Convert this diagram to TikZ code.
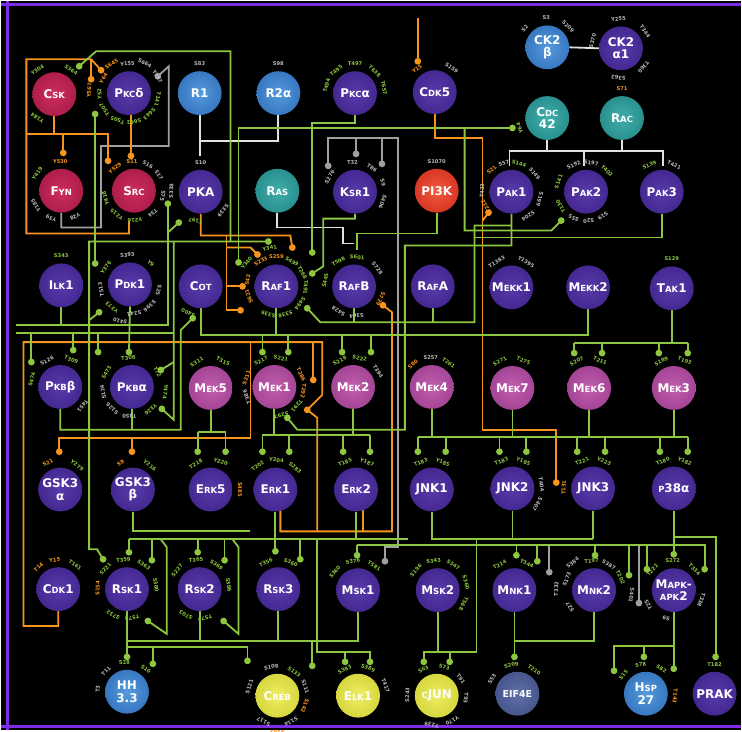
\documentclass[tikz,border=0pt]{standalone}
\usepackage{fontspec}
\setmainfont{DejaVu Sans}
\usetikzlibrary{calc}
\pgfdeclarelayer{back}\pgfdeclarelayer{bg}
\pgfsetlayers{back,bg,main}
\definecolor{gcol}{RGB}{141,198,63}
\definecolor{ocol}{RGB}{247,148,29}
\definecolor{kcol}{RGB}{160,160,160}
\definecolor{wcol}{RGB}{225,225,225}
\definecolor{slg}{RGB}{140,198,63}
\definecolor{slo}{RGB}{247,148,29}
\definecolor{slw}{RGB}{185,185,185}
\definecolor{framecol}{RGB}{125,45,230}
\definecolor{purA}{RGB}{88,58,170}\definecolor{purB}{RGB}{66,38,142}\definecolor{purC}{RGB}{42,20,100}\definecolor{purD}{RGB}{24,10,62}
\definecolor{magA}{RGB}{195,95,175}\definecolor{magB}{RGB}{160,65,145}\definecolor{magC}{RGB}{105,32,95}\definecolor{magD}{RGB}{65,15,60}
\definecolor{redA}{RGB}{205,45,95}\definecolor{redB}{RGB}{170,28,72}\definecolor{redC}{RGB}{112,14,44}\definecolor{redD}{RGB}{68,8,28}
\definecolor{bluA}{RGB}{85,155,220}\definecolor{bluB}{RGB}{52,115,190}\definecolor{bluC}{RGB}{25,68,138}\definecolor{bluD}{RGB}{12,38,88}
\definecolor{teaA}{RGB}{65,175,170}\definecolor{teaB}{RGB}{38,140,140}\definecolor{teaC}{RGB}{20,92,96}\definecolor{teaD}{RGB}{10,58,62}
\definecolor{pikA}{RGB}{240,90,60}\definecolor{pikB}{RGB}{212,50,35}\definecolor{pikC}{RGB}{148,20,15}\definecolor{pikD}{RGB}{88,10,8}
\definecolor{yelA}{RGB}{238,238,100}\definecolor{yelB}{RGB}{212,212,58}\definecolor{yelC}{RGB}{148,148,20}\definecolor{yelD}{RGB}{88,88,10}
\definecolor{slaA}{RGB}{98,112,168}\definecolor{slaB}{RGB}{68,82,138}\definecolor{slaC}{RGB}{40,50,94}\definecolor{slaD}{RGB}{22,28,60}
\pgfdeclareradialshading{orbpur}{\pgfpointorigin}{color(0bp)=(purA); color(28bp)=(purB); color(44bp)=(purC); color(50bp)=(purD)}
\pgfdeclareradialshading{orbmag}{\pgfpointorigin}{color(0bp)=(magA); color(28bp)=(magB); color(44bp)=(magC); color(50bp)=(magD)}
\pgfdeclareradialshading{orbred}{\pgfpointorigin}{color(0bp)=(redA); color(28bp)=(redB); color(44bp)=(redC); color(50bp)=(redD)}
\pgfdeclareradialshading{orbblu}{\pgfpointorigin}{color(0bp)=(bluA); color(28bp)=(bluB); color(44bp)=(bluC); color(50bp)=(bluD)}
\pgfdeclareradialshading{orbtea}{\pgfpointorigin}{color(0bp)=(teaA); color(28bp)=(teaB); color(44bp)=(teaC); color(50bp)=(teaD)}
\pgfdeclareradialshading{orbpik}{\pgfpointorigin}{color(0bp)=(pikA); color(28bp)=(pikB); color(44bp)=(pikC); color(50bp)=(pikD)}
\pgfdeclareradialshading{orbyel}{\pgfpointorigin}{color(0bp)=(yelA); color(28bp)=(yelB); color(44bp)=(yelC); color(50bp)=(yelD)}
\pgfdeclareradialshading{orbsla}{\pgfpointorigin}{color(0bp)=(slaA); color(28bp)=(slaB); color(44bp)=(slaC); color(50bp)=(slaD)}
\newcommand{\nodefnt}{\fontsize{12}{12.5}\selectfont\bfseries}
\newcommand{\kn}[2]{#1{\fontsize{8.5}{8.5}\selectfont #2}}
\newcommand{\sitel}[4]{\node[sitelab,text=#4,rotate=#2-90] at ($(#1)+(#2:29.5pt)$) {#3};}
\newcommand{\siter}[5]{\node[sitelab,text=#4,rotate=#2-90] at ($(#1)+(#2:#5pt)$) {#3};}
\tikzset{
  orb/.style={circle, minimum size=44pt, inner sep=0pt, text=white, font=\nodefnt, align=center, shade, shading=#1},
  pur/.style={orb=orbpur}, mag/.style={orb=orbmag}, red/.style={orb=orbred}, blu/.style={orb=orbblu},
  tea/.style={orb=orbtea}, pik/.style={orb=orbpik}, yel/.style={orb=orbyel}, sla/.style={orb=orbsla},
  sitelab/.style={font=\fontsize{5.2}{5.2}\selectfont\bfseries, inner sep=0pt},
  gl/.style={draw=gcol, line width=1.8pt},
  ol/.style={draw=ocol, line width=1.8pt},
  kl/.style={draw=kcol, line width=1.8pt},
  wl/.style={draw=wcol, line width=1.8pt}
}
\begin{document}
\begin{tikzpicture}[x=1pt,y=-1pt]
\begin{pgfonlayer}{back}
\fill[black] (0,0) rectangle (742,731);
\draw[framecol, line width=3pt] (0,3) -- (742,3);
\draw[framecol, line width=3pt] (6,0) -- (6,731);
\draw[framecol, line width=3pt] (0,728) -- (742,728);
\end{pgfonlayer}
\useasboundingbox (0,0) rectangle (742,731);
% ---------- nodes
\node[red] (csk) at (53,93) {\kn{C}{SK}};
\node[pur] (pkcd) at (128,92) {\kn{P}{KC}δ};
\node[blu] (r1) at (199,92) {R1};
\node[blu] (r2a) at (278,92) {R2α};
\node[pur] (pkca) at (355,92) {\kn{P}{KC}α};
\node[pur] (cdk5) at (435,91) {\kn{C}{DK}5};
\node[blu] (ck2b) at (548,46) {CK2\\β};
\node[pur] (ck2a) at (622,47) {CK2\\α1};
\node[tea] (cdc42) at (548,117) {\kn{C}{DC}\\42};
\node[tea] (rac) at (623,117) {\kn{R}{AC}};
\node[red] (fyn) at (60,190) {\kn{F}{YN}};
\node[red] (src) at (133,190) {\kn{S}{RC}};
\node[pur] (pka) at (200,191) {PKA};
\node[tea] (ras) at (277,190) {\kn{R}{AS}};
\node[pur] (ksr1) at (355,191) {\kn{K}{SR}1};
\node[pik] (pi3k) at (437,190) {PI3K};
\node[pur] (pak1) at (512,191) {\kn{P}{AK}1};
\node[pur] (pak2) at (587,191) {\kn{P}{AK}2};
\node[pur] (pak3) at (663,191) {\kn{P}{AK}3};
\node[pur] (ilk1) at (60,285) {\kn{I}{LK}1};
\node[pur] (pdk1) at (129,284) {\kn{P}{DK}1};
\node[pur] (cot) at (200,286) {\kn{C}{OT}};
\node[pur] (raf1) at (276,286) {\kn{R}{AF}1};
\node[pur] (rafb) at (354,286) {\kn{R}{AF}B};
\node[pur] (rafa) at (433,286) {\kn{R}{AF}A};
\node[pur] (mekk1) at (512,287) {\kn{M}{EKK}1};
\node[pur] (mekk2) at (589,287) {\kn{M}{EKK}2};
\node[pur] (tak1) at (673,288) {\kn{T}{AK}1};
\node[pur] (pkbb) at (59,387) {\kn{P}{KB}β};
\node[pur] (pkba) at (131,387) {\kn{P}{KB}α};
\node[mag] (mek5) at (210,388) {\kn{M}{EK}5};
\node[mag] (mek1) at (274,387) {\kn{M}{EK}1};
\node[mag] (mek2) at (353,387) {\kn{M}{EK}2};
\node[mag] (mek4) at (432,387) {\kn{M}{EK}4};
\node[mag] (mek7) at (513,388) {\kn{M}{EK}7};
\node[mag] (mek6) at (590,388) {\kn{M}{EK}6};
\node[mag] (mek3) at (675,388) {\kn{M}{EK}3};
\node[pur] (gsk3a) at (59,490) {GSK3\\α};
\node[pur] (gsk3b) at (132,490) {GSK3\\β};
\node[pur] (erk5) at (210,490) {\kn{E}{RK}5};
\node[pur] (erk1) at (275,490) {\kn{E}{RK}1};
\node[pur] (erk2) at (356,490) {\kn{E}{RK}2};
\node[pur] (jnk1) at (432,490) {JNK1};
\node[pur] (jnk2) at (513,489) {JNK2};
\node[pur] (jnk3) at (594,489) {JNK3};
\node[pur] (p38) at (675,489) {\kn{}{P}38α};
\node[pur] (cdk1) at (57,590) {\kn{C}{DK}1};
\node[pur] (rsk1) at (126,590) {\kn{R}{SK}1};
\node[pur] (rsk2) at (199,590) {\kn{R}{SK}2};
\node[pur] (rsk3) at (278,590) {\kn{R}{SK}3};
\node[pur] (msk1) at (358,591) {\kn{M}{SK}1};
\node[pur] (msk2) at (438,591) {\kn{M}{SK}2};
\node[pur] (mnk1) at (515,591) {\kn{M}{NK}1};
\node[pur] (mnk2) at (595,591) {\kn{M}{NK}2};
\node[pur] (mk2) at (675,591) {\kn{M}{APK}-\\\kn{}{APK}2};
\node[blu] (hh33) at (126,693) {HH\\3.3};
\node[yel] (creb) at (277,697) {\kn{C}{REB}};
\node[yel] (elk1) at (358,697) {\kn{E}{LK}1};
\node[yel] (cjun) at (437,697) {\kn{}{C}JUN};
\node[sla] (eif4e) at (518,695) {{\fontsize{9.5}{9.5}\selectfont EIF4E}};
\node[blu] (hsp27) at (647,695) {\kn{H}{SP}\\27};
\node[pur] (prak) at (716,695) {PRAK};
% ---------- connectors
\begin{pgfonlayer}{bg}
% grey
\draw[kl] (fyn.south) -- (60,227) -- (100,227) -- (100,145) -- (168,145) -- (168,65) -- (157,75);
\draw[kl] (385,562) -- (385,548) -- (398,548) -- (398,137) -- (328,137) -- (328,165);
\draw[kl] (356,137) -- (356,153);
\draw[kl] (382,137) -- (382,163);
\draw[kl] (550,546) -- (550,573);
\draw[kl] (640,546) -- (640,604);
% white
\draw[wl] (r1.south) -- (199,155);
\draw[wl] (r2a.south) -- (278,140) -- (199,140);
\draw[wl] (ck2b.east) -- (ck2a.west);
\draw[wl] (cdc42.south) -- (548,150);
\draw[wl] (rac.south) -- (623,150);
\draw[wl] (510,165) -- (510,150) -- (664,150) -- (664,165);
\draw[wl] (585,150) -- (585,165);
\draw[wl] (ras.south) -- (277,227) -- (343,227) -- (343,243) -- (354,243);
% orange
\draw[ol] (128,220) -- (128,233) -- (25,233) -- (25,58) -- (90,58) -- (100,69);
\draw[ol] (90,58) -- (90,78);
\draw[ol] (csk.south) -- (53,133);
\draw[ol] (25,133) -- (107,133) -- (107,160);
\draw[ol] (62,133) -- (62,152);
\draw[ol] (130,114) -- (130,155);
\draw[ol] (418,17) -- (418,60);
\draw[ol] (cdk5.south) -- (435,137) -- (483,137) -- (483,430) -- (557,430) -- (557,483);
\draw[ol] (483,220) -- (489,212);
\draw[ol] (pka.south) -- (200,235) -- (290,235) -- (292,247);
\draw[ol] (226,235) -- (226,310) -- (240,310);
\draw[ol] (226,286) -- (242,286);
\draw[ol] (226,247) -- (250,247) -- (257,254);
\draw[ol] (cdk1.south) -- (57,627) -- (22,627) -- (22,342) -- (322,342) -- (322,395) -- (307,410);
\draw[ol] (313,342) -- (313,380);
\draw[ol] (250,342) -- (250,438) -- (58,438) -- (58,452);
\draw[ol] (131,438) -- (131,452);
\draw[ol] (280,511) -- (280,532) -- (392,532) -- (392,312) -- (383,305);
\draw[ol] (363,511) -- (363,532);
\draw[ol] (317,532) -- (317,418) -- (307,410);
% green: upper part
\draw[gl] (78,65) -- (95,50) -- (230,50) -- (230,241);
\draw[gl] (238,262) -- (238,127) -- (513,127);
\draw[gl] (102,560) -- (96,550) -- (88,550) -- (88,241) -- (268,241);
\draw[gl] (88,320) -- (98,312);
\draw[gl] (94,113) -- (94,263);
\draw[gl] (pkca.south) -- (355,122) -- (312,122) -- (312,252);
\draw[gl] (ksr1.south) -- (355,218) -- (323,218) -- (323,266) -- (312,273);
\draw[gl] (pi3k.south) -- (437,233) -- (357,233) -- (357,250);
\draw[gl] (pak1.south) -- (512,245) -- (405,245) -- (405,430) -- (297,430) -- (287,418);
\draw[gl] (512,225) -- (475,225) -- (475,322) -- (320,322) -- (307,308);
\draw[gl] (rafb.south) -- (354,322);
\draw[gl] (rafa.south) -- (433,322);
\draw[gl] (562,220) -- (552,230) -- (465,230) -- (465,127);
\draw[gl] (pak3.south) -- (663,237) -- (475,237);
\draw[gl] (cot.south) -- (200,335) -- (589,335) -- (mekk2.south);
\draw[gl] (raf1.south) -- (276,335);
\foreach \x in {262,288,342,371} \draw[gl] (\x,335) -- (\x,352);
\draw[gl] (15,325) -- (167,325) -- (167,203);
\draw[gl] (ilk1.south) -- (60,325);
\draw[gl] (167,232) -- (178,222);
\draw[gl] (15,333) -- (173,333);
\draw[gl] (173,241) -- (173,420) -- (161,409);
\draw[gl] (173,362) -- (160,370);
\draw[gl] (30,333) -- (30,362);
\draw[gl] (72,333) -- (72,350);
\draw[gl] (97,333) -- (97,352);
\draw[gl] (pdk1.south) -- (128,352);
\draw[gl] (192,318) -- (180,330) -- (180,430) -- (59,430) -- (pkbb.south);
\draw[gl] (pkba.south) -- (131,430);
% green: MAPK cascade
\draw[gl] (mek1.south) -- (274,435);
\draw[gl] (mek2.south) -- (353,435);
\draw[gl] (262,435) -- (370,435);
\foreach \x in {262,289,343,370} \draw[gl] (\x,435) -- (\x,452);
\draw[gl] (mek5.south) -- (210,432);
\draw[gl] (197,432) -- (225,432);
\foreach \x in {197,225} \draw[gl] (\x,432) -- (\x,452);
\draw[gl] (tak1.south) -- (673,343);
\draw[gl] (575,343) -- (689,343);
\foreach \x in {575,603,660,689} \draw[gl] (\x,343) -- (\x,353);
\draw[gl] (418,437) -- (689,437);
\draw[gl] (mek4.south) -- (432,437);
\draw[gl] (mek7.south) -- (513,437);
\draw[gl] (mek6.south) -- (590,437);
\draw[gl] (mek3.south) -- (675,437);
\foreach \x in {418,446,500,527,578,606,661,689} \draw[gl] (\x,437) -- (\x,452);
% green: lower part
\draw[gl] (erk1.south) -- (275,540);
\draw[gl] (erk2.south) -- (356,540);
\draw[gl] (128,540) -- (408,540);
\draw[gl] (gsk3b.south) -- (132,532) -- (250,532);
\draw[gl] (128,540) -- (128,553);
\draw[gl] (151,540) -- (151,561);
\draw[gl] (160,540) -- (166,548) -- (166,635) -- (147,622);
\draw[gl] (197,540) -- (197,553);
\draw[gl] (224,540) -- (224,561);
\draw[gl] (232,540) -- (238,548) -- (238,635) -- (223,622);
\draw[gl] (275,540) -- (275,552);
\draw[gl] (300,540) -- (300,560);
\draw[gl] (317,540) -- (317,653) -- (370,653) -- (370,663);
\draw[gl] (345,653) -- (345,663);
\draw[gl] (jnk1.south) -- (432,540) -- (594,540);
\draw[gl] (jnk2.south) -- (513,540);
\draw[gl] (jnk3.south) -- (594,540);
\draw[gl] (477,540) -- (477,653) -- (424,653) -- (424,663);
\draw[gl] (450,653) -- (450,663);
\draw[gl] (msk2.south) -- (438,653);
\draw[gl] (p38.south) -- (675,555);
\draw[gl] (675,538) -- (717,538) -- (717,658);
\draw[gl] (357,546) -- (706,546) -- (706,570);
\foreach \x/\y in {357/556,517/556,538/562,596/556,630/576,648/570} \draw[gl] (\x,546) -- (\x,\y);
\draw[gl] (mk2.south) -- (675,670);
\draw[gl] (675,647) -- (615,647) -- (615,672);
\draw[gl] (645,647) -- (645,658);
\draw[gl] (mnk1.south) -- (515,658);
\draw[gl] (mnk2.south) -- (595,642) -- (515,642);
\draw[gl] (rsk1.south) -- (126,658);
\draw[gl] (126,642) -- (358,642) -- (msk1.south);
\draw[gl] (rsk2.south) -- (199,642);
\draw[gl] (rsk3.south) -- (278,642);
\draw[gl] (312,642) -- (312,667);
\draw[gl] (126,648) -- (247,648) -- (247,662);
\draw[gl] (152,648) -- (152,665);
% dots
\foreach \p in {{78,65},{268,241},{102,560},{98,312},{94,113},{94,263},{312,252},{312,273},{238,262},{513,127},{287,418},{307,308},{562,220},{262,352},{288,352},{342,352},{371,352},{167,203},{178,222},{161,409},{160,370},{30,362},{72,350},{97,352},{128,352},{192,318},{262,452},{289,452},{343,452},{370,452},{197,452},{225,452},{575,353},{603,353},{660,353},{689,353},{418,452},{446,452},{500,452},{527,452},{578,452},{606,452},{661,452},{689,452},{128,553},{151,561},{147,622},{197,553},{224,561},{223,622},{275,552},{300,560},{345,663},{370,663},{424,663},{450,663},{717,658},{357,556},{517,556},{538,562},{596,556},{630,576},{648,570},{675,555},{706,570},{675,670},{615,672},{645,658},{515,658},{126,658},{312,667},{247,662},{152,665}}
  \fill[gcol] (\p) circle[radius=3.4pt];
\foreach \p in {{100,69},{90,78},{62,152},{107,160},{130,155},{418,60},{557,483},{489,212},{292,247},{240,310},{242,286},{257,254},{307,410},{313,380},{58,452},{131,452},{383,305}}
  \fill[ocol] (\p) circle[radius=3.4pt];
\foreach \p in {{157,75},{385,562},{328,165},{356,153},{382,163},{550,573},{640,604}}
  \fill[kcol] (\p) circle[radius=3.4pt];
\end{pgfonlayer}
% ---------- site labels
\sitel{csk}{125}{Y304}{slg}\sitel{csk}{55}{S364}{slg}\sitel{csk}{-125}{Y184}{slg}
\sitel{pkcd}{150}{Y64}{slo}\siter{pkcd}{121}{S645}{slo}{34}\sitel{pkcd}{93}{Y155}{slw}
\siter{pkcd}{62}{S664}{slw}{34}\siter{pkcd}{30}{Y187}{slw}{33}\sitel{pkcd}{-12}{T141}{slg}
\sitel{pkcd}{-46}{S643}{slg}\sitel{pkcd}{-80}{S662}{slg}\sitel{pkcd}{-113}{T505}{slg}
\sitel{pkcd}{-146}{T507}{slg}\sitel{pkcd}{182}{Y52}{slg}\siter{pkcd}{176}{Y567}{slo}{40}
\sitel{r1}{90}{S83}{slw}\sitel{r2a}{90}{S98}{slw}
\sitel{pkca}{165}{T494}{slg}\sitel{pkca}{130}{T495}{slg}\sitel{pkca}{90}{T497}{slg}\sitel{pkca}{48}{T638}{slg}\sitel{pkca}{10}{T657}{slg}
\sitel{cdk5}{127}{Y15}{slo}\sitel{cdk5}{55}{S159}{slw}
\sitel{ck2b}{140}{S2}{slw}\sitel{ck2b}{92}{S3}{slw}\sitel{ck2b}{45}{S209}{slw}
\sitel{ck2a}{165}{S370}{slw}\sitel{ck2a}{95}{Y255}{slw}\sitel{ck2a}{35}{T344}{slw}\sitel{ck2a}{-40}{T360}{slw}\sitel{ck2a}{-95}{S362}{slw}
\sitel{cdc42}{-160}{Y64}{slg}\sitel{rac}{90}{S71}{slo}
\sitel{fyn}{92}{Y530}{slo}\sitel{fyn}{145}{Y419}{slg}\sitel{fyn}{-150}{Y185}{slw}\sitel{fyn}{-110}{Y39}{slw}\sitel{fyn}{-62}{Y28}{slw}
\sitel{src}{130}{Y529}{slo}\sitel{src}{94}{S11}{slo}\sitel{src}{62}{S16}{slw}\sitel{src}{32}{S17}{slw}\sitel{src}{-10}{S75}{slw}
\sitel{src}{-50}{T34}{slw}\sitel{src}{-88}{Y216}{slg}\sitel{src}{-126}{Y215}{slg}\sitel{src}{-165}{Y418}{slg}
\sitel{pka}{90}{S10}{slw}\sitel{pka}{178}{S338}{slw}\sitel{pka}{-100}{T197}{slg}\sitel{pka}{-40}{S339}{slw}
\sitel{ksr1}{150}{S276}{slw}\sitel{ksr1}{95}{T32}{slw}\sitel{ksr1}{55}{T86}{slw}\sitel{ksr1}{18}{S9}{slw}\sitel{ksr1}{-20}{S406}{slw}
\sitel{pi3k}{90}{S1070}{slw}
\sitel{pak1}{132}{S21}{slo}\sitel{pak1}{105}{S57}{slw}\sitel{pak1}{75}{S144}{slg}\sitel{pak1}{38}{S149}{slw}
\sitel{pak1}{-15}{S199}{slw}\sitel{pak1}{-55}{S204}{slw}\sitel{pak1}{-150}{T212}{slo}\sitel{pak1}{178}{T423}{slw}
\sitel{pak2}{160}{S141}{slg}\sitel{pak2}{115}{S192}{slw}\sitel{pak2}{80}{S197}{slw}\sitel{pak2}{45}{T402}{slg}
\sitel{pak2}{-55}{S19}{slw}\sitel{pak2}{-85}{S20}{slw}\sitel{pak2}{-115}{S55}{slw}\sitel{pak2}{-150}{T130}{slg}
\sitel{pak3}{115}{S139}{slg}\sitel{pak3}{65}{T421}{slw}
\sitel{ilk1}{90}{S343}{slg}
\sitel{pdk1}{95}{S393}{slw}\sitel{pdk1}{45}{Y9}{slg}\sitel{pdk1}{-12}{S25}{slw}\sitel{pdk1}{-48}{S396}{slw}
\sitel{pdk1}{-82}{S241}{slw}\sitel{pdk1}{-128}{Y373}{slg}\sitel{pdk1}{-170}{T513}{slw}\sitel{pdk1}{145}{Y376}{slg}\siter{pdk1}{-105}{S410}{slw}{38}
\sitel{cot}{-115}{S400}{slg}
\sitel{raf1}{168}{S43}{slo}\siter{raf1}{142}{Y340}{slg}{38}\siter{raf1}{100}{Y341}{slg}{39}\sitel{raf1}{122}{S233}{slo}
\sitel{raf1}{90}{S259}{slo}\sitel{raf1}{58}{S499}{slg}\sitel{raf1}{28}{T268}{slg}\sitel{raf1}{-2}{T491}{slg}
\sitel{raf1}{-36}{S494}{slg}\sitel{raf1}{-72}{S338}{slg}\sitel{raf1}{-106}{S339}{slg}\sitel{raf1}{-160}{S621}{slo}
\sitel{rafb}{168}{S445}{slg}\sitel{rafb}{122}{T598}{slg}\sitel{rafb}{84}{S601}{slg}\sitel{rafb}{38}{S728}{slw}
\sitel{rafb}{-25}{S729}{slo}\sitel{rafb}{-85}{S364}{slw}\sitel{rafb}{-122}{S428}{slw}
\sitel{mekk1}{120}{T1383}{slw}\sitel{mekk1}{60}{T1395}{slw}
\sitel{tak1}{90}{S129}{slg}
\sitel{pkbb}{165}{S474}{slg}\sitel{pkbb}{117}{S126}{slw}\sitel{pkbb}{68}{T309}{slg}\sitel{pkbb}{-40}{T451}{slw}
\sitel{pkba}{150}{S473}{slg}\sitel{pkba}{97}{T308}{slg}\sitel{pkba}{30}{T72}{slg}\siter{pkba}{-8}{Y474}{slg}{34}
\sitel{pkba}{-50}{Y326}{slg}\sitel{pkba}{-95}{T450}{slw}\sitel{pkba}{-132}{S126}{slw}\sitel{pkba}{-170}{S124}{slw}
\sitel{mek5}{118}{S311}{slg}\sitel{mek5}{65}{T315}{slg}
\sitel{mek1}{162}{S211}{slo}\sitel{mek1}{117}{S217}{slg}\sitel{mek1}{77}{S221}{slg}\sitel{mek1}{25}{T286}{slo}
\sitel{mek1}{-8}{T292}{slo}\sitel{mek1}{-40}{T291}{slg}\sitel{mek1}{-76}{S297}{slg}\sitel{mek1}{-160}{T386}{slw}
\sitel{mek2}{117}{S218}{slg}\sitel{mek2}{77}{S222}{slg}\sitel{mek2}{32}{T394}{slw}
\sitel{mek4}{130}{S80}{slo}\sitel{mek4}{92}{S257}{slw}\sitel{mek4}{55}{T261}{slg}
\sitel{mek7}{115}{S271}{slg}\sitel{mek7}{68}{T275}{slg}
\sitel{mek6}{115}{S207}{slg}\sitel{mek6}{68}{T211}{slg}
\sitel{mek3}{115}{S189}{slg}\sitel{mek3}{68}{T193}{slg}
\sitel{gsk3a}{115}{S21}{slo}\sitel{gsk3a}{55}{Y279}{slg}
\sitel{gsk3b}{115}{S9}{slo}\sitel{gsk3b}{55}{Y216}{slg}
\sitel{erk5}{120}{T218}{slg}\sitel{erk5}{70}{Y220}{slg}\sitel{erk5}{0}{S485}{slo}
\sitel{erk1}{127}{T202}{slg}\sitel{erk1}{88}{Y204}{slg}\sitel{erk1}{48}{S283}{slg}
\sitel{erk2}{112}{T185}{slg}\sitel{erk2}{68}{Y187}{slg}
\sitel{jnk1}{112}{T183}{slg}\sitel{jnk1}{68}{Y185}{slg}
\sitel{jnk2}{112}{T183}{slg}\sitel{jnk2}{68}{Y185}{slg}\sitel{jnk2}{8}{T404}{slw}\sitel{jnk2}{-32}{S407}{slw}
\sitel{jnk3}{112}{T221}{slg}\sitel{jnk3}{68}{Y223}{slg}\sitel{jnk3}{178}{T131}{slo}
\sitel{p38}{112}{T180}{slg}\sitel{p38}{68}{Y182}{slg}
\sitel{cdk1}{132}{T14}{slo}\sitel{cdk1}{97}{Y15}{slo}\sitel{cdk1}{55}{T161}{slg}
\sitel{rsk1}{137}{S221}{slg}\sitel{rsk1}{97}{T359}{slg}\sitel{rsk1}{55}{S363}{slg}\sitel{rsk1}{8}{S380}{slg}
\sitel{rsk1}{-80}{T573}{slg}\sitel{rsk1}{-118}{S732}{slg}\sitel{rsk1}{178}{S154}{slo}
\sitel{rsk2}{140}{S227}{slg}\sitel{rsk2}{97}{T365}{slg}\sitel{rsk2}{55}{S369}{slg}\sitel{rsk2}{8}{S386}{slg}
\sitel{rsk2}{-80}{T577}{slg}\sitel{rsk2}{-118}{S703}{slg}
\sitel{rsk3}{115}{T356}{slg}\sitel{rsk3}{65}{S360}{slg}
\sitel{msk1}{142}{S360}{slg}\sitel{msk1}{100}{S376}{slg}\sitel{msk1}{57}{T581}{slg}
\sitel{msk2}{138}{S196}{slg}\sitel{msk2}{98}{S343}{slg}\sitel{msk2}{58}{S347}{slg}\sitel{msk2}{15}{S360}{slg}\sitel{msk2}{-28}{T568}{slg}
\sitel{mnk1}{120}{T214}{slg}\sitel{mnk1}{65}{T344}{slg}
\siter{mnk2}{178}{T332}{slw}{38}\sitel{mnk2}{158}{S173}{slw}\siter{mnk2}{128}{S384}{slw}{35}\sitel{mnk2}{95}{T197}{slg}
\sitel{mnk2}{60}{S387}{slw}\sitel{mnk2}{26}{T202}{slg}\sitel{mnk2}{-145}{S27}{slw}\siter{mnk2}{-8}{S401}{slw}{38}
\sitel{mk2}{137}{T222}{slg}\sitel{mk2}{92}{S272}{slg}\sitel{mk2}{45}{T334}{slg}\sitel{mk2}{-20}{T338}{slw}
\sitel{mk2}{-105}{S9}{slw}\sitel{mk2}{-150}{T25}{slw}
\sitel{hh33}{175}{T3}{slw}\sitel{hh33}{135}{T11}{slw}\sitel{hh33}{95}{S28}{slg}\sitel{hh33}{50}{S10}{slg}
\sitel{creb}{162}{S121}{slw}\sitel{creb}{102}{S108}{slw}\sitel{creb}{55}{S133}{slg}\sitel{creb}{18}{S111}{slw}
\sitel{creb}{-20}{S142}{slo}\sitel{creb}{-62}{S114}{slw}\sitel{creb}{-118}{S117}{slw}\siter{creb}{-90}{S143}{slo}{37}
\sitel{elk1}{117}{S383}{slg}\sitel{elk1}{70}{S389}{slg}\sitel{elk1}{20}{T417}{slw}
\sitel{cjun}{117}{S63}{slg}\sitel{cjun}{75}{S73}{slg}\sitel{cjun}{35}{T91}{slw}\sitel{cjun}{-5}{T93}{slw}
\sitel{cjun}{-58}{Y170}{slw}\sitel{cjun}{-100}{T239}{slw}\sitel{cjun}{178}{S243}{slw}
\sitel{eif4e}{150}{S53}{slw}\sitel{eif4e}{102}{S209}{slg}\sitel{eif4e}{55}{T210}{slg}
\sitel{hsp27}{140}{S15}{slg}\sitel{hsp27}{100}{S78}{slg}\sitel{hsp27}{58}{S82}{slg}\sitel{hsp27}{-5}{T143}{slo}
\sitel{prak}{90}{T182}{slg}
\end{tikzpicture}
\end{document}
